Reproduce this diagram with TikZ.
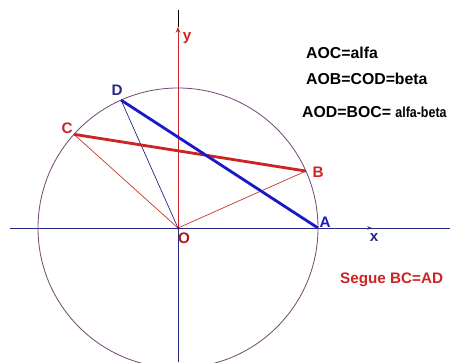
\documentclass[tikz,border=0pt]{standalone}
\usepackage{fontspec}
\setmainfont{Liberation Sans}
\usetikzlibrary{arrows.meta}
\definecolor{navy}{RGB}{40,40,130}
\definecolor{ptred}{RGB}{205,35,35}
\definecolor{circcol}{RGB}{115,75,115}
\definecolor{segblue}{RGB}{25,25,200}
\tikzset{
  lbl/.style={font=\bfseries\fontsize{13}{15}\selectfont, inner sep=0pt},
  eqtext/.style={font=\bfseries\fontsize{13.5}{16}\selectfont, inner sep=0pt, anchor=west},
  thinred/.style={ptred!80!brown, line width=0.6pt},
  chord/.style={line width=2.4pt}
}

\begin{document}
\begin{tikzpicture}[x=0.03cm, y=0.03cm]
        \useasboundingbox (-178,-134) rectangle (272,228);
        \coordinate (O) at (0,0);
        \coordinate (A) at (0:140);
        \coordinate (B) at (24:140);
        \coordinate (C) at (138:140);
        \coordinate (D) at (114:140);
        \coordinate (Xtip) at (194,0);
        \coordinate (Ytip) at (0,201);
        % axes
        \draw[navy, line width=0.8pt] (-168,0) -- (272,0);
        \draw[navy, line width=0.8pt] (0,-134) -- (O);
        \draw[black, line width=0.6pt] (Ytip) -- (0,218);
        \draw[ptred, line width=0.7pt, -{Stealth[length=5pt, width=4pt]}] (O) -- (Ytip);
        \draw[navy, line width=0.8pt, -{Stealth[length=4pt, width=3pt]}] (O) -- (Xtip);
        \draw[circcol, line width=0.7pt] (O) circle (140);
        % radii
        \draw[thinred] (O) -- (C);
        \draw[thinred] (O) -- (B);
        \draw[navy, line width=0.6pt] (O) -- (D);
        % chords
        \draw[chord, ptred] (C) -- (B);
        \draw[chord, segblue] (D) -- (A);
        \fill[navy] (O) circle (1.5);
        % labels
        \node[lbl, segblue] (lA) at (147,6) {A};
        \node[lbl, ptred] (lB) at (140,56) {B};
        \node[lbl, ptred] (lC) at (-111,100) {C};
        \node[lbl, navy] (lD) at (-61,138) {D};
        \node[lbl, ptred!80!black] (lO) at (6,-10) {O};
        \node[lbl, navy] (lx) at (196,-9) {x};
        \node[lbl, ptred] (ly) at (9,190) {y};
        \node[eqtext] (t1) at (128,175) {AOC=alfa};
        \node[eqtext] (t2) at (128,149) {AOB=COD=beta};
        \node[eqtext] (t3) at (124,116) {AOD=BOC= \scalebox{0.85}[1]{\fontsize{12.5}{15}\selectfont alfa-beta}};
        \node[lbl, ptred, anchor=west] (t4) at (162,-52) {Segue BC=AD};
\end{tikzpicture}
\end{document}
